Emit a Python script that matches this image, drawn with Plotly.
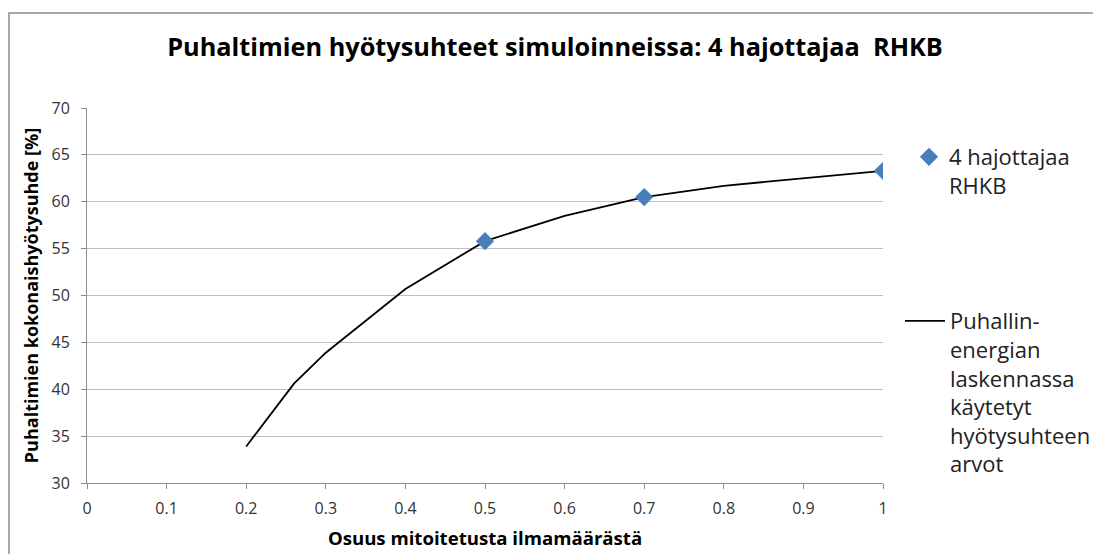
import plotly.graph_objects as go

# Data
line_x = [0.2, 0.26, 0.3, 0.4, 0.5, 0.6, 0.7, 0.8, 1.0]
line_y = [33.9, 40.6, 43.9, 50.7, 55.8, 58.5, 60.5, 61.7, 63.3]
marker_x = [0.5, 0.7, 1.0]
marker_y = [55.8, 60.5, 63.3]
x_ticks = [0, 0.1, 0.2, 0.3, 0.4, 0.5, 0.6, 0.7, 0.8, 0.9, 1]
x_ticklabels = ["0", "0.1", "0.2", "0.3", "0.4", "0.5", "0.6", "0.7", "0.8", "0.9", "1"]
y_ticks = [30, 35, 40, 45, 50, 55, 60, 65, 70]

title = "Puhaltimien hyötysuhteet simuloinneissa: 4 hajottajaa  RHKB"
xtitle = "Osuus mitoitetusta ilmamäärästä"
ytitle = "Puhaltimien kokonaishyötysuhde [%]"
name_markers = "4 hajottajaa<br>RHKB"
name_line = "Puhallin-<br>energian<br>laskennassa<br>käytetyt<br>hyötysuhteen<br>arvot"

FONT = "Open Sans"

fig = go.Figure()
fig.add_trace(go.Scatter(
    x=line_x, y=line_y, mode="lines", name=name_line,
    line=dict(color="black", width=1.8), legend="legend2"))
fig.add_trace(go.Scatter(
    x=marker_x, y=marker_y, mode="markers", name=name_markers,
    marker=dict(symbol="diamond", size=14, color="#4a7ebb"), legend="legend"))

# page body has an 8px margin; all screen positions are shifted by OFF
OFF = 8
W, H = 1101 - OFF, 554 - OFF
L, T = 87 - OFF, 108 - OFF
PR, PB = 883 - OFF, 483 - OFF
R, B = W - PR, H - PB
pw, ph = PR - L, PB - T

def px(xs):
    return (xs - OFF - L) / pw

def py(ys):
    return (PB - (ys - OFF)) / ph

fig.update_layout(
    width=W, height=H,
    margin=dict(l=L, r=R, t=T, b=B, autoexpand=False),
    paper_bgcolor="white", plot_bgcolor="white",
    font=dict(family=FONT, color="#222222"),
    title=dict(text="<b>" + title + "</b>", x=(555 - OFF) / W, xref="container", xanchor="center",
               y=1 - (47 - OFF) / H, yref="container", yanchor="middle",
               font=dict(size=25.3, family=FONT, color="black")),
    xaxis=dict(range=[0, 1], tickvals=x_ticks, ticktext=x_ticklabels, automargin=False,
               showgrid=False, showline=True, linecolor="#8c8c8c", linewidth=1,
               ticks="outside", ticklen=5, tickcolor="#8c8c8c", ticklabelstandoff=6,
               tickfont=dict(size=16, color="#333333"), zeroline=False,
               title=dict(text="<b>" + xtitle + "</b>", font=dict(size=18.6, color="black"), standoff=13)),
    yaxis=dict(range=[30, 70], tickvals=y_ticks, automargin=False,
               showgrid=True, gridcolor="#bfbfbf", gridwidth=1.3,
               showline=True, linecolor="#8c8c8c", linewidth=1,
               ticks="outside", ticklen=5, tickcolor="#8c8c8c", ticklabelstandoff=8,
               tickfont=dict(size=16, color="#333333"), zeroline=False,
               title=dict(text="<b>" + ytitle + "</b>", font=dict(size=18, color="black"), standoff=8)),
    legend=dict(x=px(909), y=py(136), xanchor="left", yanchor="top", valign="top",
                font=dict(size=22, family=FONT, color="#222222"), bgcolor="rgba(0,0,0,0)"),
    legend2=dict(x=px(900), y=py(300), xanchor="left", yanchor="top", valign="top",
                 itemwidth=40,
                 font=dict(size=22, family=FONT, color="#222222"), bgcolor="rgba(0,0,0,0)"),
    showlegend=True,
)

fig.add_shape(type="rect", xref="paper", yref="paper",
              x0=px(9), x1=px(1110), y0=py(570), y1=py(13),
              line=dict(color="#8c8c8c", width=1.5), fillcolor="rgba(0,0,0,0)", layer="below")

fig.write_html("out.html")
